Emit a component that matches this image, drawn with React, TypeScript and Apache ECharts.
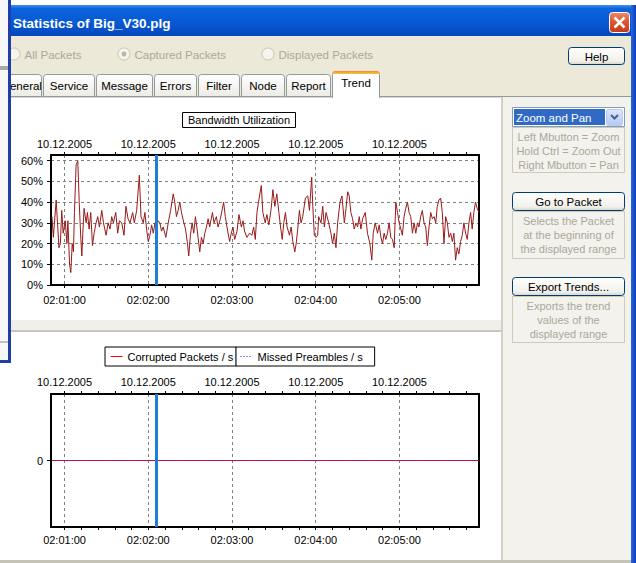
import React, { useEffect, useRef } from 'react';
import * as echarts from 'echarts';

// ---------------- data ----------------
const sampleSeconds = [
  51, 52, 54, 56, 57, 58, 59, 60.5, 61.7, 62.4, 63.6, 64.5, 65.5, 66.4, 67.1, 68.3, 69.5, 70.5, 71.7, 72.4,
  73.1, 74, 75.5, 76.4, 77.6, 78.8, 80, 81.2, 82.6, 83.8, 85, 86.7, 87.9, 89.8, 91.2, 92.6, 93.8, 95, 96.7, 98.1,
  99.3, 101, 102.6, 104, 105.5, 106.9, 108.8, 110, 111.7, 113.6, 114.8, 116.4, 117.6, 118.8, 120, 121.2, 122.4, 123.6, 124.8, 126,
  127.1, 128.3, 129.5, 130.7, 132.6, 134.3, 136, 137.9, 139, 140.2, 141.4, 142.6, 143.8, 145.5, 146.7, 148.1, 149, 150.2, 151.4, 152.6,
  153.8, 155, 156.2, 156.9, 158.1, 159.3, 160.5, 161.7, 162.9, 164, 166, 167.1, 168.8, 170, 171.7, 174, 175.2, 176.4, 178.3, 179.5,
  180.7, 181.9, 183.6, 185, 186.7, 187.9, 189, 190.7, 192.6, 194.3, 195.5, 196.7, 197.9, 199, 201, 202.1, 203.8, 205, 206.4, 208.1,
  209.3, 210.7, 212.1, 213.6, 214.8, 216, 217.1, 218.3, 219.5, 221.2, 222.4, 223.6, 225, 226, 227.1, 228.3, 229.5, 230.7, 232.6, 234.3,
  235.5, 237.1, 237.9, 239, 240.2, 241.4, 242.1, 243.8, 245, 246.2, 247.4, 249.3, 250.9, 252.1, 253.3, 254.5, 255.7, 257.4, 258.8, 260.5,
  261.7, 262.9, 264, 265.2, 266.4, 267.6, 268.8, 270, 271.2, 272.4, 273.6, 275.5, 277.1, 278.8, 280.2, 281.2, 282.6, 284.3, 285.5, 286.7,
  287.9, 289, 290.2, 291.4, 292.6, 293.8, 295, 296.2, 297.4, 298.6, 299.8, 301, 302.1, 303.3, 304.5, 305.7, 306.9, 308.1, 309.3, 310.5,
  311.7, 312.9, 314, 315.2, 316.4, 317.6, 318.8, 320, 321.2, 322.4, 323.6, 324.8, 326, 327.1, 328.3, 329.5, 330.7, 331.9, 333.1, 334.3,
  335.5, 336.7, 337.9, 339, 340.2, 341.4, 342.6, 343.8, 345, 346.2, 347.4, 348.6, 349.8, 351, 352.1, 353.3, 354.5, 355.7, 357,
];
const utilization = [
  33, 23, 41, 18, 20, 36, 25, 31, 20, 31, 10, 6, 20, 16, 35, 58, 60, 40, 22, 14,
  25, 37, 30, 35, 27, 35, 19, 25, 30, 33, 28, 36, 30, 24, 30, 27, 33, 30, 35, 25,
  31, 30, 24, 38, 32, 30, 35, 30, 36, 53, 33, 30, 35, 27, 21, 24, 29, 25, 30, 28,
  31, 30, 26, 28, 23, 30, 36, 44, 40, 33, 36, 40, 35, 30, 27, 20, 14, 24, 30, 25,
  33, 27, 20, 16, 23, 20, 25, 28, 32, 28, 35, 30, 33, 28, 32, 40, 33, 28, 21, 25,
  28, 22, 26, 34, 28, 31, 26, 23, 25, 24, 28, 22, 35, 40, 48, 35, 30, 34, 29, 37,
  46, 38, 44, 35, 28, 22, 30, 35, 28, 24, 28, 21, 16, 20, 27, 36, 30, 33, 42, 43,
  36, 52, 38, 24, 23, 24, 33, 30, 38, 28, 35, 30, 25, 20, 25, 18, 30, 40, 43, 30,
  37, 45, 43, 35, 32, 27, 30, 28, 33, 27, 32, 35, 25, 20, 12, 25, 30, 25, 29, 23,
  20, 25, 22, 25, 30, 23, 22, 18, 40, 35, 30, 27, 24, 33, 37, 40, 35, 33, 25, 30,
  25, 30, 28, 33, 36, 30, 28, 19, 28, 35, 32, 33, 30, 38, 41, 42, 35, 20, 33, 30,
  23, 25, 21, 25, 12, 18, 15, 21, 24, 30, 25, 22, 30, 35, 27, 35, 40, 37, 35,
];
const errorSampleSeconds = [51, 60, 120, 180, 240, 300, 357];
const corruptedPackets = [0, 0, 0, 0, 0, 0, 0];
const missedPreambles = [0, 0, 0, 0, 0, 0, 0];

const minuteSeconds = [60, 120, 180, 240, 300];
const timeLabels = ['02:01:00', '02:02:00', '02:03:00', '02:04:00', '02:05:00'];
const dateLabels = ['10.12.2005', '10.12.2005', '10.12.2005', '10.12.2005', '10.12.2005'];
const tickSeconds = [60, 72, 84, 96, 108, 120, 132, 144, 156, 168, 180, 192, 204, 216, 228, 240, 252, 264, 276, 288, 300, 312, 324, 336, 348];
const percentTicks = [0, 10, 20, 30, 40, 50, 60];
const countTicks = [0];
const cursorSecond = 126;

const windowTitle = 'Statistics of Big_V30.plg';
const radioLabels = ['All Packets', 'Captured Packets', 'Displayed Packets'];
const tabNames = ['General', 'Service', 'Message', 'Errors', 'Filter', 'Node', 'Report', 'Trend'];
const modeLabel = 'Zoom and Pan';
const zoomHelp = ['Left Mbutton = Zoom', 'Hold Ctrl = Zoom Out', 'Right Mbutton = Pan'];
const gotoLabel = 'Go to Packet';
const gotoHelp = ['Selects the Packet', 'at the beginning of', 'the displayed range'];
const exportLabel = 'Export Trends...';
const exportHelp = ['Exports the trend', 'values of the', 'displayed range'];
const corruptedName = 'Corrupted Packets / s';
const missedName = 'Missed Preambles / s';
const chartTitle = 'Bandwidth Utilization';

// ---------------- layout ----------------
const FONT = "'Liberation Sans', Arial, sans-serif";
const X_MIN = 50.3;
const X_MAX = 357;
const Y_MAX = 62.75;
const tabEdges = [[-22, 41], [43, 94], [96, 152], [154, 196], [198, 239], [241, 284], [286, 330], [332, 379]];
const radioX = [14, 124, 268];

const LG = (stops: [number, string][], x2 = 0, y2 = 1) =>
  new echarts.graphic.LinearGradient(0, 0, x2, y2, stops.map(([offset, color]) => ({ offset, color })));

const txt = (x: number, y: number, text: string, size: number, color: string, align = 'left', weight = 'normal', z = -15) => ({
  type: 'text', x, y, z, silent: true,
  style: { text, fill: color, fontSize: size, fontFamily: FONT, fontWeight: weight, align, textAlign: align, verticalAlign: 'middle', textVerticalAlign: 'middle' },
});
const rect = (x: number, y: number, w: number, h: number, fill: any, stroke: any = null, r: any = 0, z = -30, lw = 1) => ({
  type: 'rect', z, silent: true, shape: { x, y, width: w, height: h, r }, style: { fill, stroke, lineWidth: lw },
});
const ln = (x1: number, y1: number, x2: number, y2: number, stroke: string, w = 1, z = -20) => ({
  type: 'line', z, silent: true, shape: { x1, y1, x2, y2 }, style: { stroke, lineWidth: w },
});

function buildChrome(): any[] {
  const g: any[] = [];
  g.push(rect(0, 0, 636, 563, '#ffffff', null, 0, -40));
  g.push(rect(0, 36, 631, 62, '#ece9d8', null, 0, -38));
  g.push(rect(11, 5, 625, 31, LG([[0, '#3d8ff2'], [0.12, '#0b63dd'], [0.6, '#0758d3'], [1, '#0647bd']]), null, [0, 7, 0, 0], -38));
  g.push(txt(13, 23, windowTitle, 13.5, '#ffffff', 'left', 'bold'));
  g.push(rect(609.5, 12.5, 20, 20, LG([[0, '#ee8a66'], [0.5, '#dc5530'], [1, '#c23a17']]), '#ffffff', 3, -20));
  g.push(ln(614.5, 17.5, 624.5, 27.5, '#ffffff', 2.5, -18));
  g.push(ln(624.5, 17.5, 614.5, 27.5, '#ffffff', 2.5, -18));
  g.push(rect(0, 96, 631, 464, '#ffffff', null, 0, -37));
  g.push(rect(503, 97, 128, 463, '#f3f2ed', null, 0, -36));
  g.push(rect(0, 320, 502, 10, '#f0efe9', null, 0, -36));
  g.push(rect(0, 330, 502, 2, '#c9c7bb', null, 0, -35));
  g.push(rect(501, 97, 2, 463, '#d5d1c5', null, 0, -35));
  g.push(ln(0, 96.5, 631, 96.5, '#919b9c', 1, -34));
  g.push(ln(0, 97.5, 501, 97.5, '#d8d6cc', 1, -34));
  g.push(rect(0, 560, 631, 3, '#c5c3b8', null, 0, -34));
  g.push(rect(631, 5, 5, 558, LG([[0, '#2a68dc'], [1, '#0a3cb8']], 1, 0), null, 0, -34));
  radioLabels.forEach((label, i) => {
    g.push({ type: 'circle', z: -20, silent: true, shape: { cx: radioX[i], cy: 54, r: 6 }, style: { fill: '#f5f4ef', stroke: '#c9c6b6', lineWidth: 1 } });
    if (i === 1) g.push({ type: 'circle', z: -19, silent: true, shape: { cx: radioX[i], cy: 54, r: 2.5 }, style: { fill: '#b9b6a6' } });
    g.push(txt(radioX[i] + 10.5, 54.5, label, 11.5, '#aca899'));
  });
  g.push(rect(568.5, 47.5, 56, 17, LG([[0, '#ffffff'], [0.8, '#f1f0ea'], [1, '#d8d2c6']]), '#003c74', 3, -20));
  g.push(txt(596.5, 56.5, 'Help', 11.5, '#000000', 'center'));
  tabNames.forEach((name, i) => {
    const [x0, x1] = tabEdges[i];
    const active = name === 'Trend';
    if (active) {
      g.push(rect(x0 + 0.5, 71.5, x1 - x0, 26, '#ffffff', '#919b9c', [3, 3, 0, 0], -22));
      g.push(rect(x0 + 0.5, 71, x1 - x0, 3, LG([[0, '#e68b2c'], [1, '#ffc73c']]), null, [3, 3, 0, 0], -21));
      g.push(rect(x0 + 1, 95, x1 - x0 - 1, 3, '#ffffff', null, 0, -21));
      g.push(txt((x0 + x1) / 2 + 0.5, 83, name, 11.5, '#000000', 'center'));
    } else {
      g.push(rect(x0 + 0.5, 74.5, x1 - x0, 22, LG([[0, '#ffffff'], [1, '#ecebe5']]), '#919b9c', [3, 3, 0, 0], -22));
      if (i === 0) g.push(txt(1, 85.5, name, 11.5, '#000000', 'left'));
      else g.push(txt((x0 + x1) / 2 + 0.5, 85.5, name, 11.5, '#000000', 'center'));
    }
  });
  g.push(rect(512.5, 107.5, 112, 19, '#ffffff', '#7f9db9', 0, -20));
  g.push(rect(514, 109, 91, 16, '#316ac5', null, 0, -19));
  g.push(txt(516, 117.5, modeLabel, 11.5, '#ffffff'));
  g.push(rect(606.5, 109.5, 16, 16, LG([[0, '#dce7fd'], [1, '#b4c8f5']]), '#b8cbf3', 2, -19));
  g.push({ type: 'polyline', z: -18, silent: true, shape: { points: [[611, 115], [614.5, 118.5], [618, 115]] }, style: { stroke: '#4d6185', lineWidth: 2, fill: null } });
  const box = (y: number, h: number, lines: string[]) => {
    g.push(rect(512.5, y + 0.5, 112, h, null, '#cdc9bb', 0, -20));
    lines.forEach((l, k) => g.push(txt(568.5, y + 9.5 + k * 14, l, 11, '#aca899', 'center')));
  };
  const button = (y: number, label: string) => {
    g.push(rect(512.5, y + 0.5, 112, 18, LG([[0, '#ffffff'], [0.8, '#f1f0ea'], [1, '#d8d2c6']]), '#003c74', 3, -20));
    g.push(txt(568.5, y + 10, label, 11.5, '#000000', 'center'));
  };
  box(127, 45, zoomHelp);
  button(192, gotoLabel);
  box(211, 47, gotoHelp);
  button(277, exportLabel);
  box(296, 46, exportHelp);
  g.push(rect(0, 0, 8, 360, '#f7f7f7', null, 0, -8));
  g.push(rect(0, 66, 8, 4, '#a9a9a3', null, 0, -7));
  g.push(rect(0, 341, 8, 2, '#c3c3bd', null, 0, -7));
  g.push(rect(8, 0, 3, 363, '#1f3ea8', null, 0, -6));
  g.push(rect(0, 360, 11, 3, '#1f3ea8', null, 0, -6));
  return g;
}

const dashed = { color: '#808080', width: 1, type: [3, 3] };
const black2 = { color: '#000000', width: 2 };
const labelFont = { fontSize: 11, fontFamily: FONT, color: '#000000' };

function xAxesFor(gridIndex: number, bottomMargin: number, topMargin: number) {
  return [
    {
      type: 'value', gridIndex, position: 'bottom', min: X_MIN, max: X_MAX,
      axisLine: { show: true, onZero: false, lineStyle: black2 },
      axisTick: { show: true, customValues: tickSeconds, length: 3, lineStyle: { color: '#000', width: 1 } },
      axisLabel: { show: true, customValues: minuteSeconds, margin: bottomMargin, ...labelFont,
        formatter: (v: number) => timeLabels[minuteSeconds.indexOf(Math.round(v))] ?? '' },
      splitLine: { show: false },
    },
    {
      type: 'value', gridIndex, position: 'top', min: X_MIN, max: X_MAX,
      axisLine: { show: true, onZero: false, lineStyle: black2 },
      axisTick: { show: true, customValues: tickSeconds, length: 3, lineStyle: { color: '#000', width: 1 } },
      axisLabel: { show: true, customValues: minuteSeconds, margin: topMargin, ...labelFont,
        formatter: (v: number) => dateLabels[minuteSeconds.indexOf(Math.round(v))] ?? '' },
      splitLine: { show: false },
    },
    {
      type: 'value', gridIndex, position: 'bottom', min: X_MIN, max: X_MAX,
      axisLine: { show: false, onZero: false },
      axisTick: { show: false, customValues: minuteSeconds },
      axisLabel: { show: false },
      splitLine: { show: true, lineStyle: dashed },
    },
  ];
}

const cursorMark = {
  silent: true, symbol: ['none', 'none'], label: { show: false }, emphasis: { disabled: true },
  lineStyle: { color: '#1b7fd3', width: 3, type: 'solid' },
  data: [{ xAxis: cursorSecond }],
};

const legendBase = {
  top: 347, itemWidth: 12, itemHeight: 8, itemGap: 0,
  borderColor: '#000', borderWidth: 1, backgroundColor: '#fff', selectedMode: false,
  itemStyle: { opacity: 0, color: 'rgba(0,0,0,0)', borderWidth: 0 },
  lineStyle: { width: 1 },
  textStyle: { fontSize: 11, fontFamily: FONT, color: '#000', lineHeight: 13 },
};

export default function App() {
  const ref = useRef<HTMLDivElement>(null);
  useEffect(() => {
    const chart = echarts.init(ref.current!, null, { renderer: 'svg' });
    const option: any = {
      animation: false,
      title: {
        text: chartTitle, left: 182, top: 112, padding: [1, 6],
        borderColor: '#000', borderWidth: 1, backgroundColor: '#fff',
        textStyle: { fontSize: 11, fontWeight: 'normal', color: '#000', fontFamily: FONT, lineHeight: 14 },
      },
      legend: [
        { ...legendBase, data: [corruptedName], left: 105, padding: [3, 3, 3, 5] },
        { ...legendBase, data: [missedName], left: 236, padding: [3, 12, 3, 4] },
      ],
      grid: [
        { left: 51, top: 155, width: 428, height: 130, show: true, backgroundColor: '#fff', borderWidth: 0 },
        { left: 51, top: 394, width: 428, height: 133, show: true, backgroundColor: '#fff', borderWidth: 0 },
      ],
      xAxis: [...xAxesFor(0, 9, 6), ...xAxesFor(1, 7, 7)],
      yAxis: [
        {
          type: 'value', gridIndex: 0, position: 'left', min: 0, max: Y_MAX,
          axisLine: { show: true, onZero: false, lineStyle: black2 },
          axisTick: { show: true, customValues: percentTicks, length: 4, lineStyle: { color: '#000', width: 1 } },
          axisLabel: { show: true, customValues: percentTicks, margin: 8, formatter: '{value}%', ...labelFont },
          splitLine: { show: true, lineStyle: dashed },
        },
        {
          type: 'value', gridIndex: 0, position: 'right', min: 0, max: Y_MAX,
          axisLine: { show: true, onZero: false, lineStyle: black2 },
          axisTick: { show: false }, axisLabel: { show: false }, splitLine: { show: false },
        },
        {
          type: 'value', gridIndex: 1, position: 'left', min: -1, max: 1,
          axisLine: { show: true, onZero: false, lineStyle: black2 },
          axisTick: { show: true, customValues: countTicks, length: 4, lineStyle: { color: '#000', width: 1 } },
          axisLabel: { show: true, customValues: countTicks, margin: 8, formatter: '{value}', ...labelFont },
          splitLine: { show: false },
        },
        {
          type: 'value', gridIndex: 1, position: 'right', min: -1, max: 1,
          axisLine: { show: true, onZero: false, lineStyle: black2 },
          axisTick: { show: false }, axisLabel: { show: false }, splitLine: { show: false },
        },
      ],
      series: [
        {
          type: 'line', name: chartTitle, xAxisIndex: 0, yAxisIndex: 0, z: 3,
          data: sampleSeconds.map((t, i) => [t, utilization[i]]),
          symbol: 'none', showSymbol: false, emphasis: { disabled: true },
          lineStyle: { color: '#981a1a', width: 1 }, itemStyle: { color: '#981a1a' },
          markLine: cursorMark,
        },
        {
          type: 'line', name: corruptedName, xAxisIndex: 3, yAxisIndex: 2, z: 3,
          data: errorSampleSeconds.map((t, i) => [t, corruptedPackets[i]]),
          symbol: 'none', showSymbol: false, emphasis: { disabled: true },
          lineStyle: { color: '#ff0000', width: 1 }, itemStyle: { color: '#ff0000' },
          markLine: cursorMark,
        },
        {
          type: 'line', name: missedName, xAxisIndex: 3, yAxisIndex: 2, z: 4,
          data: errorSampleSeconds.map((t, i) => [t, missedPreambles[i]]),
          symbol: 'none', showSymbol: false, emphasis: { disabled: true },
          lineStyle: { color: '#2030ff', width: 1, type: [1, 2] }, itemStyle: { color: '#2030ff' },
        },
      ],
      graphic: buildChrome(),
    };
    chart.setOption(option);
    return () => chart.dispose();
  }, []);
  return <div ref={ref} style={{ position: 'absolute', left: 0, top: 0, width: 636, height: 563 }} />;
}
